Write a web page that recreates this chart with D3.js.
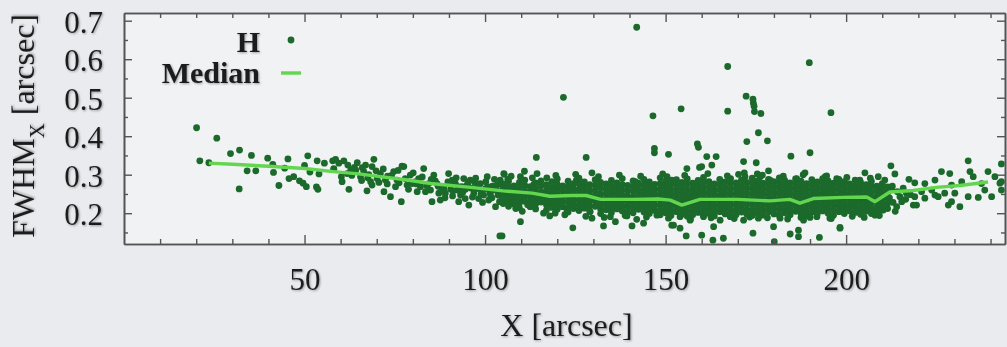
<!DOCTYPE html>
<html>
<head>
<meta charset="utf-8">
<script src="https://cdn.jsdelivr.net/npm/d3@7"></script>
<style>
  html, body { margin: 0; background: #e9ebef; }
  svg { display: block; font-family: "Liberation Serif", "Times New Roman", serif; }
</style>
</head>
<body>
<div id="chart"></div>
<script>
// FWHM_X vs X, H band – scatter + median
const X_DOMAIN = [0, 244];
const Y_DOMAIN = [0.12, 0.72];
const X_LABELS = [50, 100, 150, 200];
const Y_LABELS = [0.2, 0.3, 0.4, 0.5, 0.6, 0.7];

// scattered points [x, fwhm]
const hSparse = [
  [20.1,.422],[21.0,.336],[23.5,.331],[25.7,.395],[29.5,.355],[32.0,.364],[31.9,.263],[34.1,.310],
  [36.5,.310],[35.3,.350],[39.8,.343],[41.2,.327],[41.4,.306],[42.9,.272],[44.5,.317],[45.4,.341],
  [45.7,.290],[47.0,.295],[48.6,.284],[49.6,.278],[50.5,.269],[50.0,.324],[50.9,.349],[51.5,.307],
  [53.3,.268],[53.7,.262],[53.5,.336],[54.0,.302],[55.5,.330],[57.8,.336],[58.1,.314],
  [58.6,.340],[60.9,.336],[58.1,.316],[60.2,.295],[60.4,.282],[62.3,.262],[63.8,.319],[64.6,.331],
  [66.4,.308],[67.3,.258],[66.9,.325],[68.7,.321],[68.3,.282],[69.2,.340],[68.7,.273],[71.0,.303],
  [72.0,.256],[72.4,.286],[73.8,.243],[74.7,.308],[75.2,.269],[77.0,.322],[76.8,.230],[77.5,.321],
  [79.3,.299],[79.8,.277],[81.2,.256],[81.6,.290],[83.0,.316],[83.5,.256],[84.9,.260],[85.8,.299],
  [86.7,.277],[85.3,.230],[87.6,.234],[87.2,.252],[89.9,.303],[88.6,.264],[90.9,.286],[91.8,.277],
  [92.3,.260],[93.2,.247],[92.7,.230],[94.1,.290],[95.0,.273],[95.9,.286],[95.5,.221],[97.8,.264],
  [98.7,.277],[99.6,.247],[100.6,.295],[101.0,.234],[102.4,.260],[102.9,.217],[103.3,.273],[104.2,.286],
  [104.7,.243],[105.2,.303],[104.1,.141],
  [61.8,.303],[65.5,.295],[70.1,.290],[75.6,.286],[78.4,.273],[82.1,.269],[84.4,.277],[89.0,.252],
  [90.4,.273],[93.6,.269],[96.9,.252],[98.2,.238],[100.1,.264],[101.5,.247],[103.8,.256],[105.2,.264],
  [59.5,.330],[62.8,.312],[67.8,.300],[73.0,.296],[76.2,.279],[80.5,.281],[87.9,.266],[91.2,.258],
  [94.6,.262],[97.2,.280],[99.1,.258],[102.0,.270],
  [86.2,.284],[87.0,.270],[88.1,.258],[88.9,.240],[89.7,.281],[90.5,.262],[91.0,.245],[92.0,.292],
  [92.9,.268],[93.8,.254],[94.5,.238],[95.3,.279],[96.2,.265],[96.5,.242],[97.4,.291],[98.0,.271],
  [98.9,.250],[99.3,.228],[100.2,.282],[100.8,.268],[101.3,.255],[101.9,.240],[102.6,.288],[103.1,.262],
  [103.6,.247],[104.0,.230],[104.5,.275],
  [62.0,.325],[63.1,.298],[64.2,.312],[65.8,.285],[66.0,.318],[67.5,.292],[69.8,.310],[70.6,.280],
  [71.8,.315],[72.9,.276],[74.1,.298],[75.9,.311],[77.9,.290],[78.8,.262],[80.1,.305],[81.0,.276],
  [82.6,.294],[83.8,.272],[85.1,.288],
  [107.5,.265],[108.5,.212],[110.0,.236],[111.8,.222],[113.5,.275],[106.0,.244],
  [114.2,.345],[128.0,.345],[146.9,.368],[146.9,.357],[150.8,.353],[105.3,.301],[106.3,.288],
  [110.9,.309],[109.8,.295],[114.4,.303],[117.1,.292],[129.6,.305],[125.3,.286],[141.6,.282],
  [144.4,.279],[150.4,.295],[151.7,.286],[109.8,.178],[104.7,.141],[124.3,.162],[117.9,.193],
  [119.4,.200],[122.7,.208],[129.1,.204],[129.6,.187],[132.8,.167],[134.7,.191],[136.1,.178],
  [139.3,.193],[140.7,.167],[142.0,.184],[143.9,.174],[147.6,.195],[149.4,.204],[151.7,.169],
  [107.9,.224],[112.5,.217],[115.3,.230],
  [142.0,.683],[167.2,.581],[189.8,.591],[121.7,.501],[172.3,.504],[174.2,.496],[174.3,.486],
  [174.5,.478],[174.6,.464],[176.4,.459],[146.5,.453],[154.3,.471],[167.2,.465],[195.8,.461],
  [175.7,.409],[172.5,.386],[178.2,.388],[158.8,.380],[159.1,.371],[161.4,.347],[164.0,.347],
  [162.8,.325],[159.4,.319],[160.0,.321],[155.9,.316],[171.6,.334],[175.1,.331],[184.7,.348],
  [190.0,.357],[171.8,.305],[172.0,.295],[175.4,.302],[176.2,.295],[178.5,.310],[178.9,.286],
  [188.6,.305],[151.3,.282],[174.2,.277],[186.3,.290],[194.2,.295],[197.4,.290],
  [152.2,.169],[154.0,.161],[155.7,.141],[160.0,.143],[163.1,.130],[166.0,.135],[163.3,.165],
  [165.1,.182],[174.2,.148],[179.9,.165],[180.1,.126],[184.5,.146],[186.8,.139],[186.8,.156],
  [192.6,.137],[198.3,.161],[154.0,.191],[156.8,.182],[160.5,.191],[167.9,.191],[171.6,.182],
  [175.7,.187],[181.7,.187],[188.2,.182],[191.9,.191],[195.5,.187],
  [212.4,.323],[205.2,.305],[213.5,.302],[233.8,.336],[243.0,.328],[217.4,.288],[226.4,.308],
  [228.7,.303],[234.3,.308],[235.2,.295],[239.3,.308],[241.2,.295],[242.6,.278],[208.9,.295],
  [210.7,.286],[219.0,.279],[221.8,.277],[224.6,.286],[229.2,.273],[232.0,.282],[237.5,.277],
  [220.9,.256],[223.7,.260],[227.3,.252],[230.1,.252],[233.8,.243],[236.6,.241],[240.3,.243],
  [219.0,.243],[221.8,.239],[224.6,.247],[214.9,.243],[216.7,.252],[228.3,.221],[231.5,.217],
  [218.6,.221],[219.5,.221],[214.0,.217],[198.3,.163],[208.0,.195],[206.1,.208],[210.3,.208],
  [215.4,.230],[243.0,.282],[243.0,.260],[238.4,.260],[229.2,.230],[225.5,.243],[202.4,.262],
  [209.8,.260],[212.6,.262],[206.1,.273],[203.8,.286],
  [212.0,.240],[213.0,.228],[212.8,.270],[214.2,.256],[215.8,.265],[216.5,.236],[217.8,.248],[213.6,.205],
  // ragged edges of the core
  [107.2,.296],[113.1,.292],[119.6,.298],[125.1,.301],[131.4,.295],[137.2,.299],[143.1,.296],
  [149.2,.302],[155.3,.298],[161.7,.303],[167.1,.297],[170.2,.301],[176.8,.299],[182.6,.296],
  [188.1,.300],[194.6,.297],[200.2,.293],[206.7,.291],
  [110.3,.205],[116.2,.200],[122.1,.196],[127.9,.192],[133.0,.189],[138.8,.194],[144.7,.190],
  [150.8,.187],[156.9,.185],[162.6,.188],[169.0,.186],[173.3,.190],[178.2,.188],[183.8,.185],
  [190.0,.189],[195.9,.186],[201.7,.192],[205.0,.189],[209.2,.194]
];

// dense core of the distribution, one column of values per x
const hCoreX = [
  105.0,106.5,108.0,109.5,111.0,112.5,114.0,115.5,117.0,118.5,120.0,121.5,123.0,124.5,126.0,127.5,
  129.0,130.5,132.0,133.5,135.0,136.5,138.0,139.5,141.0,142.5,144.0,145.5,147.0,148.5,150.0,151.5,
  153.0,154.5,156.0,157.5,159.0,160.5,162.0,163.5,165.0,166.5,168.0,169.5,171.0,172.5,174.0,175.5,
  177.0,178.5,180.0,181.5,183.0,184.5,186.0,187.5,189.0,190.5,192.0,193.5,195.0,196.5,198.0,199.5,
  201.0,202.5,204.0,205.5,207.0,208.5,210.0,211.5
];
const hCoreY = [
  [.276,.262,.249,.236,.225],[.283,.268,.254,.241,.229,.218],[.271,.259,.246,.233],
  [.280,.266,.252,.240,.226,.214],[.286,.272,.257,.245,.231],[.269,.256,.243,.230,.219],
  [.279,.264,.250,.238,.224,.211],[.284,.271,.255,.242,.229],[.274,.260,.247,.233,.222,.208],
  [.282,.267,.253,.241,.228,.215],[.289,.275,.262,.249,.236,.223,.210],[.271,.258,.244,.231,.217],
  [.283,.269,.256,.242,.229,.216,.203],[.277,.263,.250,.237,.225,.212],[.291,.276,.261,.248,.234,.220,.207],
  [.281,.268,.254,.239,.226,.213],[.274,.260,.247,.233,.219,.205],[.287,.272,.258,.245,.232,.218],
  [.280,.266,.251,.238,.224,.211,.199],[.276,.262,.249,.235,.222,.209],[.285,.270,.256,.243,.229,.215,.202],
  [.279,.265,.252,.237,.224,.211],[.290,.274,.260,.246,.233,.219,.206],[.272,.259,.245,.231,.218,.204],
  [.284,.270,.257,.242,.228,.214,.201],[.278,.264,.250,.236,.223,.210],[.288,.273,.258,.245,.231,.217,.203],
  [.281,.267,.253,.240,.226,.212,.199],[.275,.261,.248,.234,.220,.207],[.292,.277,.263,.249,.236,.222,.208,.196],
  [.283,.269,.255,.242,.228,.214,.201],[.276,.262,.249,.235,.221,.207,.194],[.287,.273,.259,.245,.231,.218,.204],
  [.280,.266,.252,.238,.224,.210,.197],[.289,.275,.260,.246,.233,.219,.205,.192],[.278,.264,.251,.237,.223,.209,.196],
  [.285,.271,.257,.243,.229,.216,.202],[.293,.279,.265,.250,.236,.222,.208,.195],[.282,.268,.254,.240,.227,.213,.199],
  [.276,.262,.249,.235,.221,.207,.193],[.288,.274,.260,.246,.232,.218,.204],[.281,.267,.253,.239,.225,.212,.198],
  [.290,.276,.262,.248,.234,.220,.206,.192],[.279,.265,.251,.237,.223,.209,.196],[.286,.272,.258,.244,.230,.216,.203],
  [.280,.266,.252,.238,.224,.210,.197],[.291,.277,.263,.249,.235,.221,.207,.194],[.284,.270,.256,.242,.228,.214,.200],
  [.278,.264,.250,.236,.222,.208,.195],[.288,.274,.260,.246,.232,.218,.204],[.282,.268,.254,.240,.226,.212,.198],
  [.292,.278,.264,.250,.236,.222,.208,.194],[.285,.271,.257,.243,.229,.215,.201],[.279,.265,.251,.237,.223,.209,.196],
  [.289,.275,.261,.247,.233,.219,.205],[.283,.269,.255,.241,.227,.213,.199,.189],[.277,.263,.249,.235,.221,.207,.194],
  [.287,.273,.259,.245,.231,.217,.203],[.281,.267,.253,.239,.225,.211,.198],[.290,.276,.262,.248,.234,.220,.206],
  [.284,.270,.256,.242,.228,.214,.200],[.278,.264,.250,.236,.222,.208,.195],[.288,.274,.260,.246,.232,.218,.204],
  [.282,.268,.254,.240,.226,.212,.199],[.276,.262,.248,.234,.220,.206],[.286,.272,.258,.244,.230,.216,.202],
  [.280,.266,.252,.238,.224,.210,.197],[.274,.260,.246,.232,.218,.205],[.283,.269,.255,.241,.227,.213,.199],
  [.270,.257,.243,.229,.215,.202],[.277,.263,.250,.236,.222,.209],[.268,.254,.240,.226,.212]
];

// running median
const medianX = [23.5,30,40,50,58,65,71,78,85,96,105,113,118,124,128,132,141,148,151.3,154.5,159.5,170,
  178.9,184.4,187.2,190.9,199.2,205.7,208,212.1,218.6,225,231.5,239.3];
const medianY = [.330,.327,.322,.316,.308,.302,.295,.287,.277,.267,.258,.252,.244,.246,.246,.236,.236,.237,
  .234,.221,.236,.236,.232,.236,.226,.238,.241,.242,.230,.255,.259,.267,.272,.281];

const W = 1007, H = 347;
const PL = 124, PR = 1005, PT = 13, PB = 244;
const DOT = "#1b6a2b", MED = "#62d64f", AXIS = "#555";

const x = d3.scaleLinear().domain(X_DOMAIN).range([PL, PR]);
const y = d3.scaleLinear().domain(Y_DOMAIN).range([PB, PT]);

const svg = d3.select("#chart").append("svg").attr("width", W).attr("height", H);

const defs = svg.append("defs");
const sh = defs.append("filter").attr("id", "shadow").attr("x", "-20%").attr("y", "-20%")
  .attr("width", "140%").attr("height", "140%");
sh.append("feDropShadow").attr("dx", 1).attr("dy", 1).attr("stdDeviation", 1.2)
  .attr("flood-color", "#000").attr("flood-opacity", 0.35);

svg.append("rect").attr("x", PL).attr("y", PT).attr("width", PR - PL).attr("height", PB - PT)
  .attr("fill", "#f1f2f4");

// points
const pts = hSparse.map(([a, b]) => ({ x: a, y: b }));
hCoreX.forEach((cx, i) => hCoreY[i].forEach(v => pts.push({ x: cx, y: v })));

const plot = svg.append("g");
plot.selectAll("circle").data(pts).join("circle")
  .attr("cx", d => x(d.x)).attr("cy", d => y(d.y)).attr("r", 3.4)
  .attr("fill", DOT);

// median
plot.append("path")
  .datum(medianX.map((v, i) => [v, medianY[i]]))
  .attr("fill", "none").attr("stroke", MED).attr("stroke-width", 3.4)
  .attr("stroke-linejoin", "round")
  .attr("d", d3.line().x(d => x(d[0])).y(d => y(d[1])));

// axes
const minorX = d3.range(10, 244, 10).filter(v => v % 50 !== 0);
const minorY = [0.15, 0.25, 0.35, 0.45, 0.55, 0.65];
const styleAxis = g => {
  g.attr("font-family", null).attr("font-size", null);
  g.select(".domain").attr("stroke", AXIS).attr("stroke-width", 1.6);
  g.selectAll(".tick line").attr("stroke", AXIS).attr("stroke-width", 1.4);
  g.selectAll(".tick text").attr("fill", "#1e1e1e")
    .attr("font-size", 31).attr("filter", "url(#shadow)");
};

svg.append("g").attr("transform", `translate(0,${PB})`)
  .call(d3.axisBottom(x).tickValues(X_LABELS).tickSize(-9).tickPadding(24).tickSizeOuter(0))
  .call(g => g.selectAll(".tick text").attr("dy", "0.71em"))
  .call(styleAxis);
svg.append("g").attr("transform", `translate(0,${PB})`)
  .call(d3.axisBottom(x).tickValues(minorX).tickSize(-5).tickFormat("").tickSizeOuter(0))
  .call(styleAxis);
svg.append("g").attr("transform", `translate(0,${PT})`)
  .call(d3.axisTop(x).tickValues(X_LABELS).tickSize(-9).tickFormat("").tickSizeOuter(0))
  .call(styleAxis);
svg.append("g").attr("transform", `translate(0,${PT})`)
  .call(d3.axisTop(x).tickValues(minorX).tickSize(-5).tickFormat("").tickSizeOuter(0))
  .call(styleAxis);

svg.append("g").attr("transform", `translate(${PL},0)`)
  .call(d3.axisLeft(y).tickValues(Y_LABELS).tickSize(-8).tickPadding(21).tickSizeOuter(0)
    .tickFormat(d3.format(".1f")))
  .call(g => g.selectAll(".tick text").attr("dy", "0.38em"))
  .call(styleAxis);
svg.append("g").attr("transform", `translate(${PL},0)`)
  .call(d3.axisLeft(y).tickValues(minorY).tickSize(-4).tickFormat("").tickSizeOuter(0))
  .call(styleAxis);
svg.append("g").attr("transform", `translate(${PR},0)`)
  .call(d3.axisRight(y).tickValues(Y_LABELS).tickSize(-8).tickFormat("").tickSizeOuter(0))
  .call(styleAxis);
svg.append("g").attr("transform", `translate(${PR},0)`)
  .call(d3.axisRight(y).tickValues(minorY).tickSize(-4).tickFormat("").tickSizeOuter(0))
  .call(styleAxis);

// axis titles
svg.append("text").attr("fill", "#1e1e1e").attr("filter", "url(#shadow)")
  .attr("x", (PL + PR) / 2 + 2).attr("y", 336).attr("text-anchor", "middle")
  .attr("font-size", 32).text("X [arcsec]");

const yt = svg.append("text").attr("fill", "#1e1e1e").attr("filter", "url(#shadow)")
  .attr("transform", "translate(34,126) rotate(-90)").attr("text-anchor", "middle")
  .attr("font-size", 32);
yt.append("tspan").text("FWHM");
yt.append("tspan").attr("font-size", 21).attr("dy", 10).text("X");
yt.append("tspan").attr("dy", -10).text(" [arcsec]");

// legend
const lg = svg.append("g");
lg.append("text").attr("fill", "#1e1e1e").attr("filter", "url(#shadow)")
  .attr("x", 260).attr("y", 52).attr("text-anchor", "end")
  .attr("font-size", 30).attr("font-weight", "bold").text("H");
lg.append("circle").attr("cx", 291).attr("cy", 40).attr("r", 3.4).attr("fill", DOT);
lg.append("text").attr("fill", "#1e1e1e").attr("filter", "url(#shadow)")
  .attr("x", 260).attr("y", 83).attr("text-anchor", "end")
  .attr("font-size", 30).attr("font-weight", "bold").text("Median");
lg.append("line").attr("x1", 281).attr("x2", 301).attr("y1", 73).attr("y2", 73)
  .attr("stroke", MED).attr("stroke-width", 3.4);
</script>
</body>
</html>
